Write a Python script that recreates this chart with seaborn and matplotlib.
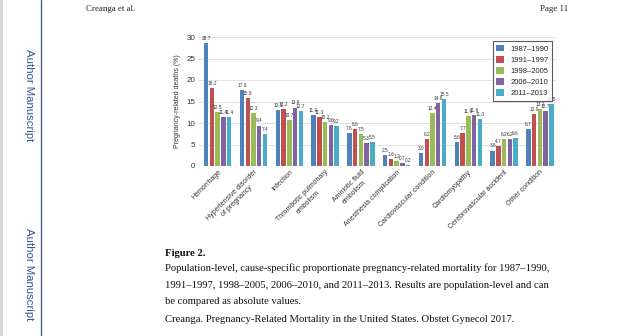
import matplotlib
matplotlib.use("Agg")
import matplotlib.pyplot as plt
import seaborn as sns
import pandas as pd
from matplotlib.lines import Line2D

# Causes of pregnancy-related death
causes = [
    "Hemorrhage",
    "Hypertensive disorder\nof pregnancy",
    "Infection",
    "Thrombotic pulmonary\nembolism",
    "Amniotic fluid\nembolism",
    "Anesthesia complication",
    "Cardiovascular condition",
    "Cardiomyopathy",
    "Cerebrovascular accident",
    "Other condition",
]
periods = ["1987\u20131990", "1991\u20131997", "1998\u20132005", "2006\u20132010", "2011\u20132013"]

# Percent of pregnancy-related deaths per cause, one list per period
p1987_1990 = [28.7, 17.6, 13.1, 11.9, 7.6, 2.5, 3.0, 5.6, 3.6, 8.7]
p1991_1997 = [18.2, 15.9, 13.2, 11.3, 8.6, 1.6, 6.2, 7.7, 4.7, 12.0]
p1998_2005 = [12.5, 12.3, 10.7, 10.2, 7.5, 1.2, 12.4, 11.6, 6.2, 13.2]
p2006_2010 = [11.4, 9.4, 13.6, 9.6, 5.3, 0.7, 14.6, 11.8, 6.2, 12.7]
p2011_2013 = [11.4, 7.4, 12.7, 9.2, 5.5, 0.2, 15.5, 11.0, 6.6, 14.5]

series = [p1987_1990, p1991_1997, p1998_2005, p2006_2010, p2011_2013]
colors = ["#4F81BD", "#C0504D", "#9BBB59", "#8064A2", "#4BACC6"]

rows = []
for period, vals in zip(periods, series):
    for cause, v in zip(causes, vals):
        rows.append({"cause": cause, "period": period, "value": v})
df = pd.DataFrame(rows)

sns.set_style("white")
plt.rcParams["font.family"] = ["Liberation Sans", "DejaVu Sans"]

fig = plt.figure(figsize=(6.4, 3.36), dpi=100)
fig.patch.set_facecolor("white")

# ---- page furniture ----
fig.patches.append(plt.Rectangle((0, 0), 0.005, 1, transform=fig.transFigure,
                                 facecolor="#d8d8d8", edgecolor="none"))
fig.add_artist(Line2D([41 / 640, 41 / 640], [0, 1], transform=fig.transFigure,
                      color="#35527f", linewidth=0.9))
for yc in (95, 274):
    fig.text(29 / 640, 1 - yc / 336, "Author Manuscript", rotation=-90,
             ha="center", va="center", fontsize=8.2, color="#2f5597")

serif = ["Liberation Serif", "DejaVu Serif"]
fig.text(86 / 640, 1 - 9 / 336, "Creanga et al.", family=serif, fontsize=6.4,
         ha="left", va="center", color="#222222")
fig.text(568 / 640, 1 - 9 / 336, "Page 11", family=serif, fontsize=6.4,
         ha="right", va="center", color="#222222")

fig.text(165 / 640, 1 - 253 / 336, "Figure 2.", family=serif, fontsize=7.7,
         weight="bold", ha="left", va="center", color="#111111")
caption = [
    "Population-level, cause-specific proportionate pregnancy-related mortality for 1987\u20131990,",
    "1991\u20131997, 1998\u20132005, 2006\u20132010, and 2011\u20132013. Results are population-level and can",
    "be compared as absolute values.",
    "Creanga. Pregnancy-Related Mortality in the United States. Obstet Gynecol 2017.",
]
for i, line in enumerate(caption):
    fig.text(165 / 640, 1 - (268 + 17 * i) / 336, line, family=serif, fontsize=7.7,
             ha="left", va="center", color="#111111")

# ---- chart ----
ax = fig.add_axes([198 / 640, 1 - 166 / 336, (556 - 198) / 640, (166 - 37) / 336])
sns.barplot(data=df, x="cause", y="value", hue="period", palette=colors,
            width=0.8, gap=0.22, ax=ax, legend=True, saturation=1,
            linewidth=0, edgecolor="none")

for cont in ax.containers:
    ax.bar_label(cont, fmt="%.1f", fontsize=3.4, padding=1.5, color="#333333")

ax.set_ylim(0, 30)
ax.set_xlim(-0.55, 9.45)
ax.set_yticks(range(0, 31, 5))
ax.yaxis.grid(True, color="#dcdcdc", linewidth=0.6)
ax.set_axisbelow(True)
for s in ax.spines.values():
    s.set_visible(False)
ax.tick_params(axis="both", length=0, pad=2)
ax.tick_params(axis="y", labelsize=5.8, colors="#333333")
ax.set_xlabel("")
ax.set_ylabel("Pregnancy-related deaths (%)", fontsize=5, color="#333333", labelpad=4)
ax.set_xticks(range(len(causes)))
ax.set_xticklabels(causes, rotation=45, ha="right", rotation_mode="anchor",
                   fontsize=5, color="#333333", multialignment="center")

leg = ax.legend(loc="upper right", bbox_to_anchor=(1.0, 1.0), fontsize=5.5,
                frameon=True, fancybox=False, edgecolor="#333333",
                handlelength=1.0, handleheight=1.0, labelspacing=0.4,
                borderpad=0.5, handletextpad=0.8, title=None)
leg.get_frame().set_linewidth(0.8)

fig.savefig("out.png", dpi=100, facecolor="white")
